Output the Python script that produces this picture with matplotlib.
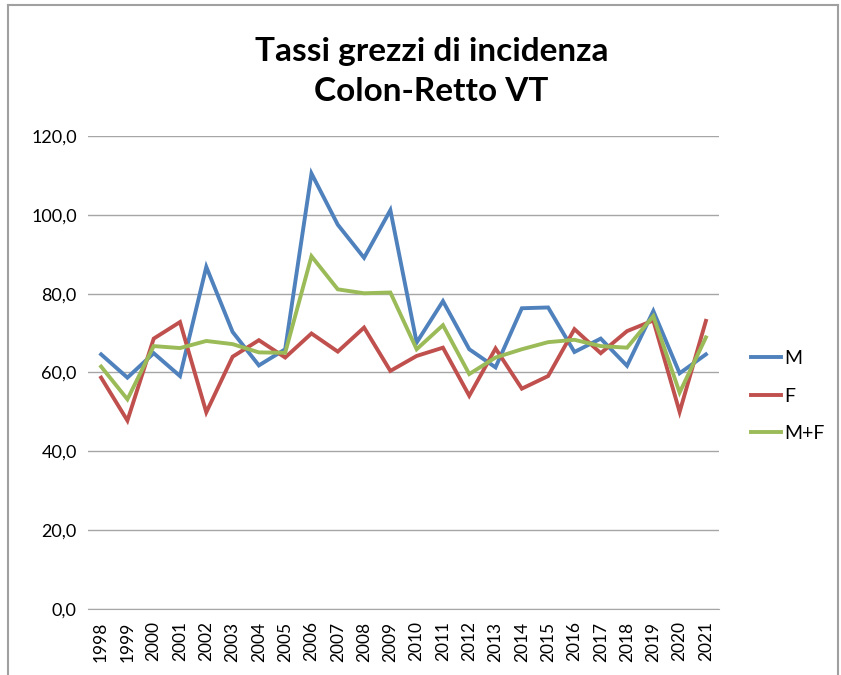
import numpy as np
import matplotlib.pyplot as plt
from matplotlib.lines import Line2D

# data
years = [str(y) for y in range(1998, 2022)]
m_vals = [64.6, 58.7, 64.9, 59.1, 86.8, 70.3, 61.8, 65.9, 110.5, 97.5, 89.1, 101.2,
          67.6, 78.1, 65.9, 61.3, 76.3, 76.5, 65.2, 68.6, 61.7, 75.6, 59.8, 64.6]
f_vals = [58.7, 47.8, 68.6, 72.8, 49.9, 64.0, 68.2, 63.8, 69.9, 65.3, 71.4, 60.4,
          64.2, 66.3, 54.1, 66.1, 55.9, 59.1, 71.0, 64.9, 70.5, 73.2, 50.0, 73.1]
mf_vals = [61.5, 53.2, 66.7, 66.2, 68.0, 67.2, 65.1, 65.0, 89.5, 81.1, 80.1, 80.3,
           65.9, 72.0, 59.6, 63.8, 65.9, 67.7, 68.3, 66.7, 66.3, 74.3, 54.9, 68.9]
labels = ['M', 'F', 'M+F']
colors = ['#4F81BD', '#C0504D', '#9BBB59']

plt.rcParams['font.family'] = ['Lato', 'DejaVu Sans']

fig = plt.figure(figsize=(8.41, 6.75), dpi=100)
ax = fig.add_axes([0.1046, 0.0978, 0.7504, 0.7007])

x = np.arange(len(years))
for vals, lab, col in zip([m_vals, f_vals, mf_vals], labels, colors):
    ax.plot(x, vals, color=col, lw=2.8, label=lab, solid_joinstyle='miter')

ax.set_xlim(-0.5, len(years) - 0.5)
ax.set_ylim(0, 120)
ax.set_yticks(np.arange(0, 121, 20))
ax.set_yticklabels([f'{v:.1f}'.replace('.', ',') for v in range(0, 121, 20)], fontsize=13)
ax.set_xticks(x)
ax.set_xticklabels(years, rotation=90, fontsize=12.5)
ax.tick_params(axis='y', length=0, pad=8)
ax.tick_params(axis='x', length=0, pad=9)
ax.grid(axis='y', color='#a6a6a6', lw=1)
ax.set_axisbelow(True)
for s in ['top', 'right', 'left']:
    ax.spines[s].set_visible(False)
ax.spines['bottom'].set_color('#a6a6a6')

ax.legend(loc='center left', bbox_to_anchor=(0.893, 1 - 396 / 675),
          bbox_transform=fig.transFigure, frameon=False, borderpad=0,
          borderaxespad=0, fontsize=14, handlelength=1.55, handletextpad=0.15,
          labelspacing=1.05)

fig.text(0.513, 0.894, 'Tassi grezzi di incidenza\nColon-Retto VT', ha='center',
         va='center', fontsize=24, fontweight='bold', linespacing=1.45)

# outer frame of the chart area
fig.add_artist(Line2D([0.009, 0.009], [0, 0.993], color='#a0a0a0', lw=1.5))
fig.add_artist(Line2D([0.009, 0.997], [0.993, 0.993], color='#a0a0a0', lw=1.5))
fig.add_artist(Line2D([0.997, 0.997], [0, 0.993], color='#a0a0a0', lw=1.5))

fig.savefig('out.png', dpi=100)
